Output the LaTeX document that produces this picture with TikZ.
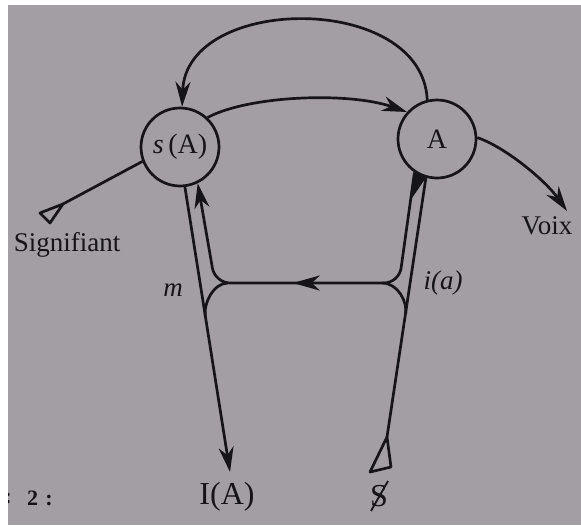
\documentclass[tikz,border=0pt]{standalone}
\usepackage{fontspec}
\setmainfont{Liberation Serif}
\usetikzlibrary{arrows.meta,decorations.markings,calc}
\definecolor{paper}{RGB}{163,158,164}
\definecolor{ink}{RGB}{22,20,24}
\begin{document}
\begin{tikzpicture}[x=1pt,y=-1pt,
  ln/.style={draw=ink,line width=2.7pt},
  arr/.style={-{Stealth[length=25pt,width=15pt,inset=8pt]}},
  circ/.style={circle,draw=ink,line width=2.7pt,minimum size=78pt,inner sep=0pt,text=ink,font=\fontsize{28}{30}\selectfont},
  lbl/.style={text=ink,inner sep=0pt,font=\fontsize{27}{29}\selectfont},
  biglbl/.style={text=ink,inner sep=0pt,font=\fontsize{32}{34}\selectfont},
  itlbl/.style={text=ink,inner sep=0pt,font=\itshape\fontsize{27}{29}\selectfont},
  midarrow/.style={postaction={decorate},decoration={markings,mark=at position #1 with {\arrow{Stealth[length=27pt,width=15pt,inset=8pt]}}}}
]
\useasboundingbox (0,0) rectangle (581,525);
\fill[white] (0,0) rectangle (581,525);
\fill[paper] (8,5) rectangle (581,525);

% nodes
\node[circ] (sA) at (180,147) {\textit{s}\,(A)};
\node[circ] (A) at (437,139) {A};

\coordinate (sigtip) at (63,204);
\coordinate (voixtip) at (567,211);
\coordinate (IAtip) at (230,472);
\coordinate (stip) at (387,437);
\coordinate (cr) at (399,283);
\coordinate (cl) at (215,283);
\coordinate (jr) at (382,283);
\coordinate (jl) at (228,283);
\coordinate (mr) at (405.7,314);
\coordinate (ml) at (205.3,316);

% top arc A -> s(A)
\draw[ln,arr] (A.104) .. controls (422,-8) and (186,-6) .. (sA.87);
% middle arc s(A) -> A
\draw[ln,arr] (sA.47) .. controls (250,95) and (350,92) .. (A.138);
% Signifiant
\draw[ln] (sA.201) -- (sigtip);
\draw[ln,line join=round] (sigtip) -- (40,213) -- (50,223) -- cycle;
% Voix
\draw[ln,arr] (A.2) .. controls (505,147) and (545,180) .. (voixtip);

% outer left to I(A)
\draw[ln,arr] (sA.277) -- (IAtip);
% outer right from barred S
\draw[ln] (A.254.5) -- (stip);
\draw[ln,line join=round] (stip) -- (370,472) -- (391,467) -- cycle;

% inner loop A -> i(a) -> m -> s(A)
\draw[ln,rounded corners=15pt,midarrow=0.55,arr] (A.236) -- (cr) -- (cl) -- (sA.296);
\fill[ink] (A.237) -- (A.254) -- (412,198) -- cycle;

% lower branches
\draw[ln] (jr) .. controls (398,283) and (407.5,302) .. (mr);
\draw[ln] (jl) .. controls (213,283) and (203.5,304) .. (ml);

% labels
\node[lbl] (sig) at (67,245) {Signifiant};
\node[lbl] (voix) at (547,226) {Voix};
\node[itlbl] (m) at (173,290) {m};
\node[itlbl] (ia) at (443,283) {i(a)};
\node[biglbl] (IA) at (227,497) {I(A)};
\node[biglbl] (S) at (379,496) {S};
\draw[ink,line width=1.8pt] ($(S.center)+(-8,15)$) -- ($(S.center)+(9,-15)$);
\node[lbl,font=\bfseries\fontsize{22}{24}\selectfont] (fig) at (40,498) {2\,\,:};
\node[lbl,font=\bfseries\fontsize{22}{24}\selectfont] (fig0) at (8,498) {:};
\fill[white] (0,0) rectangle (8,525);
\end{tikzpicture}
\end{document}
